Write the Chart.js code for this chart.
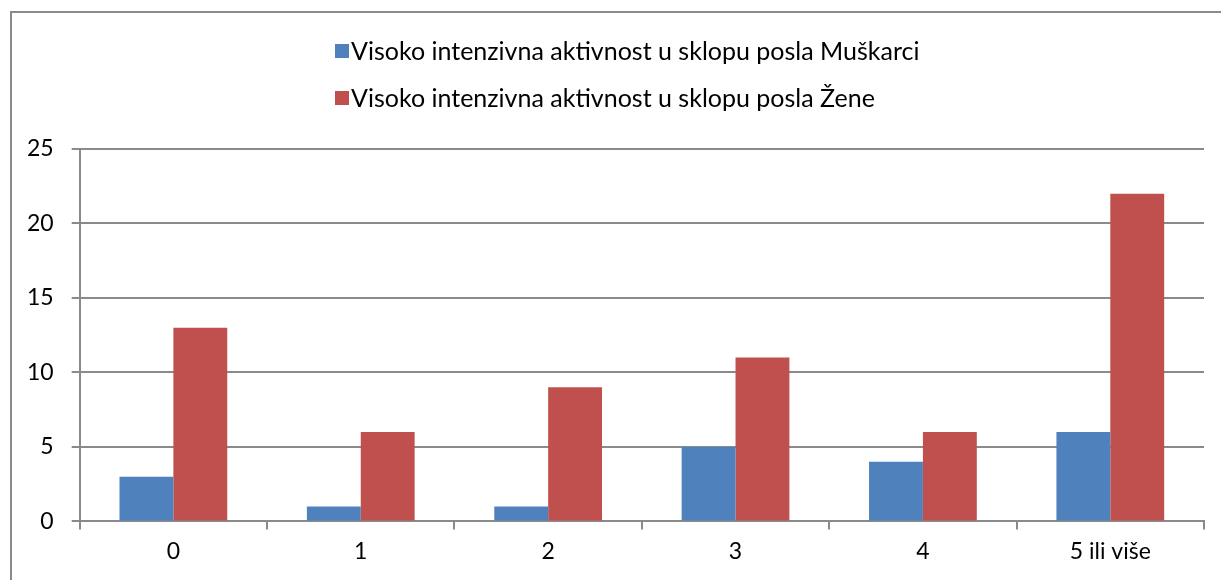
<!DOCTYPE html>
<html>
<head>
<meta charset="utf-8">
<script src="https://cdn.jsdelivr.net/npm/chart.js@4.4.1/dist/chart.umd.min.js"></script>
<style>
  html, body { margin: 0; padding: 0; background: #fff; }
  #wrap { position: relative; width: 1221px; height: 580px; overflow: hidden; }
  #frame { position: absolute; left: 10px; top: 11px; width: 1400px; height: 800px; border: 2px solid #8a8a8a; }
  #chart { position: absolute; left: 0; top: 0; }
</style>
</head>
<body>
<div id="wrap">
  <div id="frame"></div>
  <canvas id="chart" width="1221" height="580"></canvas>
</div>
<script>
// chart data
const categories = ["0", "1", "2", "3", "4", "5 ili više"];
const menValues = [3, 1, 1, 5, 4, 6];
const womenValues = [13, 6, 9, 11, 6, 22];
const seriesNames = [
  "Visoko intenzivna aktivnost u sklopu posla Muškarci",
  "Visoko intenzivna aktivnost u sklopu posla Žene"
];
const yTicks = [0, 5, 10, 15, 20, 25];

const FONT = "Lato, 'Open Sans', sans-serif";
const GRID = "#8a8a8a";

// two-line legend, left aligned like the original
const stackedLegend = {
  id: "stackedLegend",
  afterDraw(chart) {
    const c = chart.ctx;
    c.save();
    c.font = "25px " + FONT;
    c.textBaseline = "middle";
    const x0 = 335, rows = [51, 98];
    chart.data.datasets.forEach((ds, i) => {
      c.fillStyle = ds.backgroundColor;
      c.fillRect(x0, rows[i] - 7, 14, 14);
      c.fillStyle = "#000";
      c.fillText(ds.label, x0 + 16, rows[i] + 1);
    });
    c.restore();
  }
};

new Chart(document.getElementById("chart"), {
  type: "bar",
  data: {
    labels: categories,
    datasets: [
      { label: seriesNames[0], data: menValues, backgroundColor: "#4F81BD" },
      { label: seriesNames[1], data: womenValues, backgroundColor: "#C0504D" }
    ]
  },
  options: {
    responsive: false,
    animation: false,
    datasets: { bar: { categoryPercentage: 0.575, barPercentage: 1.0 } },
    layout: { padding: { top: 149, left: 9, right: 17, bottom: 7 } },
    plugins: {
      legend: { display: false },
      tooltip: { enabled: false }
    },
    scales: {
      x: {
        grid: { display: true, drawOnChartArea: false, offset: true, tickLength: 8, color: GRID, lineWidth: 2 },
        border: { color: GRID, width: 2 },
        ticks: { color: "#000", font: { family: FONT, size: 23 }, padding: 8 }
      },
      y: {
        min: 0,
        max: 25,
        afterBuildTicks(axis) { axis.ticks = yTicks.map(v => ({ value: v })); },
        grid: { color: GRID, lineWidth: 2, tickLength: 8 },
        border: { color: GRID, width: 2 },
        ticks: { color: "#000", font: { family: FONT, size: 23 }, padding: 18 }
      }
    }
  },
  plugins: [stackedLegend]
});
</script>
</body>
</html>
